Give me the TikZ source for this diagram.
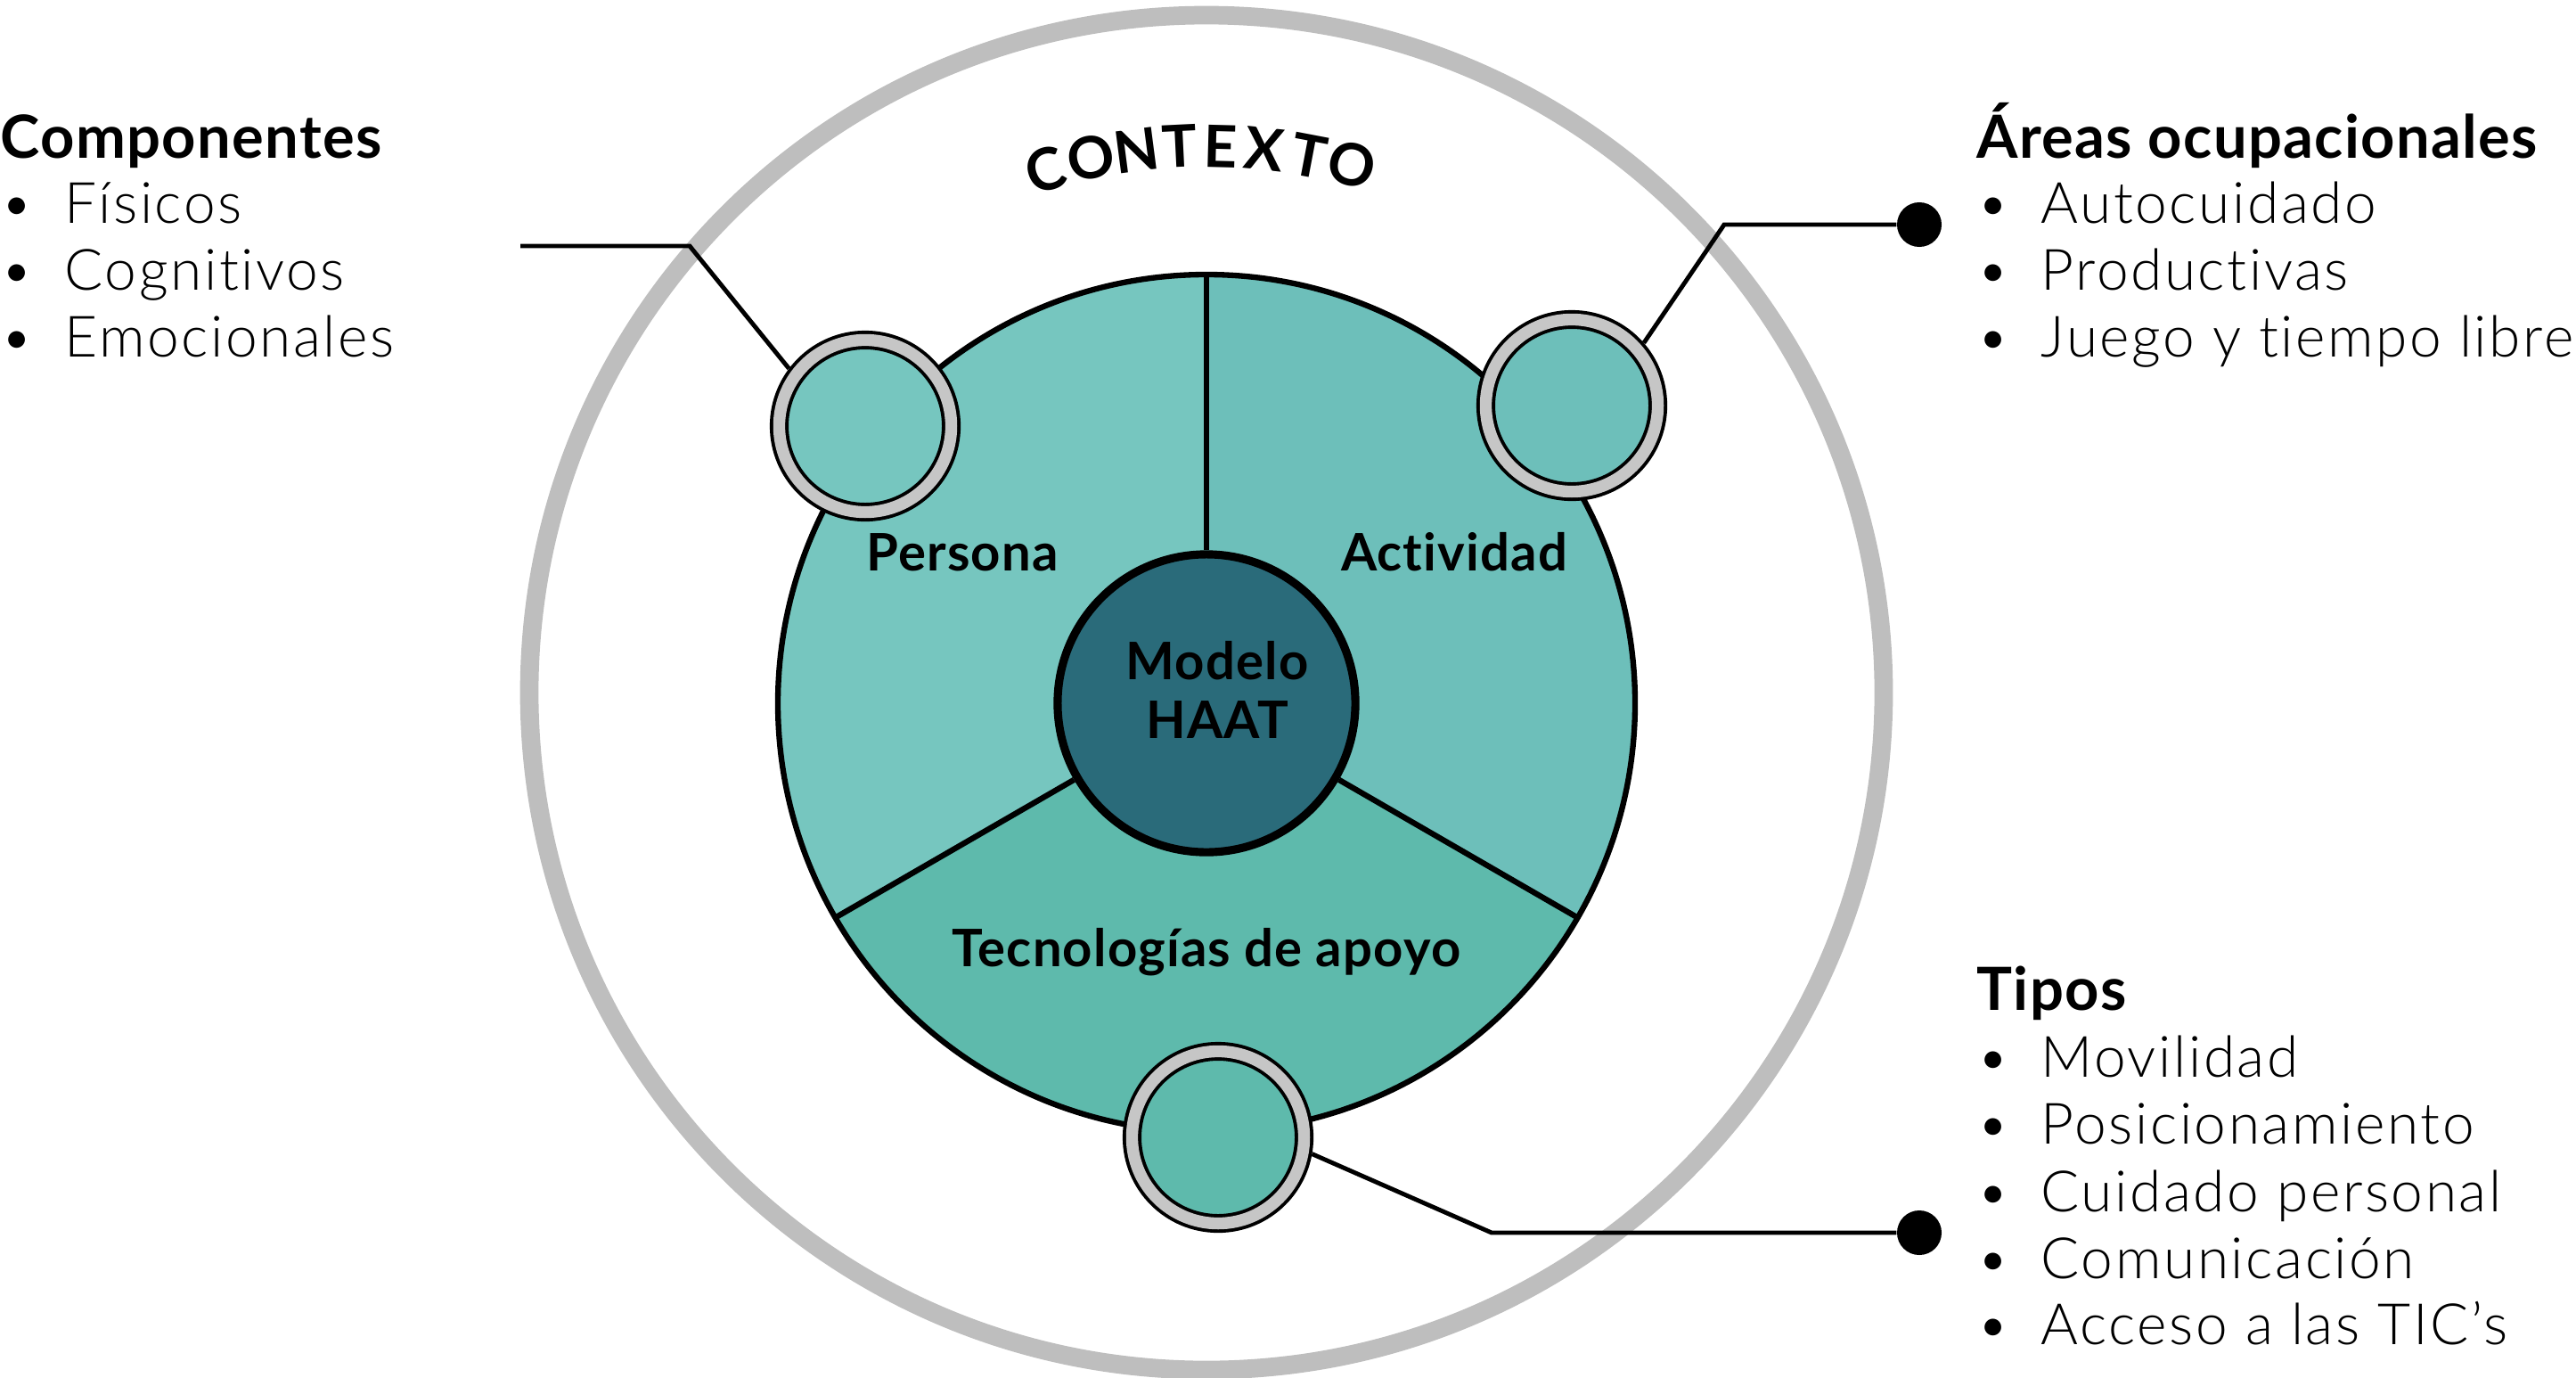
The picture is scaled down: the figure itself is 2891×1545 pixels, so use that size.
\documentclass[tikz,border=0pt]{standalone}
\usepackage{fontspec}
\setmainfont{Lato}[LetterSpace=2, Ligatures=NoCommon]
\newfontfamily\lightfont{Lato Light}[LetterSpace=4, Ligatures=NoCommon]
\usetikzlibrary{positioning}

\definecolor{ringgray}{HTML}{BEBEBE}
\definecolor{smallgray}{HTML}{C6C6C6}
\definecolor{perscol}{HTML}{76C6BF}
\definecolor{actcol}{HTML}{6DBFBA}
\definecolor{teccol}{HTML}{5EBAAC}
\definecolor{haatcol}{HTML}{2A6B7A}

\newcommand{\bul}{\makebox[20.5pt][l]{\textbullet}}

\begin{document}
\begin{tikzpicture}[
    x=0.01cm, y=-0.01cm,
    ring/.style={circle, draw=black, line width=1.1pt, double=smallgray,
        double distance=3.8pt, minimum size=1.93cm, inner sep=0pt, outer sep=3pt}, % small rings
    link/.style={line width=1.4pt}, % connectors
    endpoint/.style={circle, fill=black, minimum size=0.5cm, inner sep=0pt},
    head/.style={anchor=base west, inner sep=0pt, font=\fontsize{19}{22}\selectfont\bfseries},
    item/.style={anchor=base west, inner sep=0pt, font=\fontsize{18.2}{22}\selectfont\lightfont},
    sector/.style={anchor=base, inner sep=0pt, font=\fontsize{16.5}{19}\selectfont\bfseries},
    ctxletter/.style={anchor=south, inner sep=0pt, font=\fontsize{18.6}{20}\selectfont\bfseries}
]

    \useasboundingbox (0,0) rectangle (2891,1545);

    % Context ring
    \coordinate (ctx) at (1354,777);
    \draw[ringgray, line width=5.9pt] (ctx) circle[radius=760];

    % Curved title
    \foreach \ch/\ang [count=\i] in {C/17.1, O/12.2, N/7.4, T/2.8, E/-1.5, X/-6.1, T/-10.8, O/-15.4} {
        \path (ctx) ++(-90-\ang:589) node[ctxletter, rotate=\ang] (ctx\i) {\ch};
    }

    % Main circle and sectors
    \coordinate (mc) at (1354,789);
    \fill[perscol] (mc) -- ++(-90:481) arc[start angle=-90, end angle=-210, radius=481] -- cycle;
    \fill[actcol] (mc) -- ++(-90:481) arc[start angle=-90, end angle=30, radius=481] -- cycle;
    \fill[teccol] (mc) -- ++(-210:481) arc[start angle=-210, end angle=-330, radius=481] -- cycle;
    \draw[line width=1.8pt] (mc) circle[radius=481];

    \path (mc) ++(-90:481) coordinate (dTop)
          (mc) ++(-210:481) coordinate (dLeft)
          (mc) ++(30:481) coordinate (dRight);

    % Centre
    \node[circle, draw, line width=2.6pt, fill=haatcol, minimum size=3.34cm, inner sep=0pt] (haat) at (mc) {};
    \node[align=center, inner sep=0pt, font=\fontsize{16.5}{18.8}\selectfont\bfseries] (haatLabel) at (1366,774) {Modelo\\HAAT};

    \draw[line width=1.8pt] (haat) -- (dTop);
    \draw[line width=1.8pt] (haat) -- (dLeft);
    \draw[line width=1.8pt] (haat) -- (dRight);

    % Sector labels
    \node[sector] (persona) at (1080,640) {Persona};
    \node[sector] (actividad) at (1632,640) {Actividad};
    \node[sector] (tecno) at (1354,1084) {Tecnologías de apoyo};

    % Small rings
    \node[ring, fill=perscol] (pRing) at (971,478) {};
    \node[ring, fill=actcol] (aRing) at (1764,455) {};
    \node[ring, fill=teccol] (tRing) at (1367,1276) {};

    % Connectors
    \coordinate (pKnee) at (774,276);
    \coordinate (pEnd) at (584,276);
    \draw[link] (pRing.143) -- (pKnee) -- (pEnd);

    \coordinate (aKnee) at (1935,252);
    \node[endpoint] (aDot) at (2154,252) {};
    \draw[link] (aRing.41) -- (aKnee) -- (aDot);

    \coordinate (tKnee) at (1674,1383);
    \node[endpoint] (tDot) at (2154,1383) {};
    \draw[link] (tRing.-10) -- (tKnee) -- (tDot);

    % Lists
    \node[head] (compHead) at (0,177) {Componentes};
    \foreach \y/\txt [count=\i] in {250/Físicos, 325/Cognitivos, 400/Emocionales} {
        \node[item] (comp\i) at (0,\y) {\bul\txt};
    }

    \node[head] (areaHead) at (2218,177) {Áreas ocupacionales};
    \foreach \y/\txt [count=\i] in {250/Autocuidado, 325/Productivas, 400/Juego y tiempo libre} {
        \node[item] (area\i) at (2218,\y) {\bul\txt};
    }

    \node[head] (tipoHead) at (2218,1133) {Tipos};
    \foreach \y/\txt [count=\i] in {1208/Movilidad, 1283/Posicionamiento, 1359/Cuidado personal,
                                   1434/Comunicación, 1508/Acceso a las TIC’s} {
        \node[item] (tipo\i) at (2218,\y) {\bul\txt};
    }

\end{tikzpicture}
\end{document}
